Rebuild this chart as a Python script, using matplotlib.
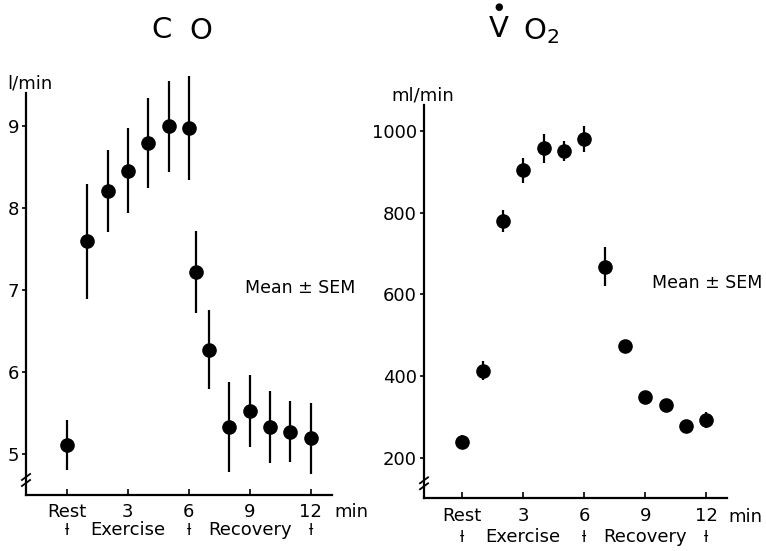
import matplotlib
matplotlib.use("Agg")
import matplotlib.pyplot as plt

W, H = 766, 551

# Cardiac output (l/min), mean and SEM
co_t = [0, 1, 2, 3, 4, 5, 6, 6.35, 7, 8, 9, 10, 11, 12]
co_mean = [5.11, 7.59, 8.20, 8.45, 8.79, 8.99, 8.97, 7.22, 6.27, 5.33, 5.52, 5.33, 5.27, 5.19]
co_sem = [0.30, 0.70, 0.50, 0.52, 0.55, 0.56, 0.63, 0.50, 0.48, 0.55, 0.44, 0.44, 0.37, 0.43]

# Oxygen uptake (ml/min), mean and SEM
vo2_t = [0, 1, 2, 3, 4, 5, 6, 7, 8, 9, 10, 11, 12]
vo2_mean = [239, 414, 780, 903, 957, 950, 980, 668, 475, 350, 330, 279, 294]
vo2_sem = [17, 24, 27, 30, 35, 25, 31, 47, 15, 10, 12, 12, 20]

x_ticks = [0, 3, 6, 9, 12]
x_labels = ["Rest", "3", "6", "9", "12"]
co_ticks = [5, 6, 7, 8, 9]
vo2_ticks = [200, 400, 600, 800, 1000]
phase_marks = [0, 6, 12]
phase_names = ["Exercise", "Recovery"]
phase_pos = [3, 9]

plt.rcParams['font.family'] = ['DejaVu Sans']
fig = plt.figure(figsize=(W / 100, H / 100), dpi=100)


def px(x, y):
    return x / W, 1 - y / H


def setup(ax, yticks, ylim, xlim, spine_top, axh, row2):
    ax.set_xlim(*xlim)
    ax.set_ylim(*ylim)
    for s in ['top', 'right']:
        ax.spines[s].set_visible(False)
    for s in ['left', 'bottom']:
        ax.spines[s].set_linewidth(1.6)
    ax.spines['left'].set_bounds(ylim[0], spine_top)
    ax.set_xticks(x_ticks)
    ax.set_xticklabels(x_labels)
    ax.set_yticks(yticks)
    ax.set_yticklabels([str(v) for v in yticks])
    ax.tick_params(axis='x', direction='in', length=4, width=1.2, pad=6, labelsize=13)
    ax.tick_params(axis='y', direction='out', length=3, width=1.2, pad=2, labelsize=13)
    # second row: phase markers and names
    for m in phase_marks:
        ax.annotate("ƚ", xy=(m, 0), xycoords=ax.get_xaxis_transform(),
                    xytext=(0, row2), textcoords='offset points',
                    ha='center', va='center', fontsize=11)
    for name, p in zip(phase_names, phase_pos):
        ax.annotate(name, xy=(p, 0), xycoords=ax.get_xaxis_transform(),
                    xytext=(0, row2), textcoords='offset points',
                    ha='center', va='center', fontsize=13)
    # axis break on the y axis
    yb = 15 / axh
    dx, dy = 4 / 300, 3 / axh
    ax.plot([0, 0], [yb - dy, yb + dy], color='white', lw=3, transform=ax.transAxes, clip_on=False)
    for off in (-dy, dy):
        ax.plot([-dx, dx], [yb + off - dy, yb + off + dy], color='black', lw=1.3,
                transform=ax.transAxes, clip_on=False)


# left panel: CO
axh1 = 495 - 72.3
ax1 = fig.add_axes([26 / W, (H - 495) / H, 306 / W, axh1 / H])
ax1.errorbar(co_t, co_mean, yerr=co_sem, fmt='o', color='black', ms=9.5,
             elinewidth=1.6, capsize=0, clip_on=False)
setup(ax1, co_ticks, (4.5, 9.65), (-2.02, 13.05), 9.4, axh1, -25.5)

# right panel: VO2
axh2 = 498.3 - 105
ax2 = fig.add_axes([424 / W, (H - 498.3) / H, 302.7 / W, axh2 / H])
ax2.errorbar(vo2_t, vo2_mean, yerr=vo2_sem, fmt='o', color='black', ms=9.5,
             elinewidth=1.6, capsize=0, clip_on=False)
setup(ax2, vo2_ticks, (102, 1063), (-1.88, 13.0), 1063, axh2, -28)

# unit labels
fig.text(*px(30, 83), "l/min", ha='center', va='center', fontsize=13)
fig.text(*px(423, 95), "ml/min", ha='center', va='center', fontsize=13)
fig.text(*px(334, 512), "min", ha='left', va='center', fontsize=13)
fig.text(*px(728, 517), "min", ha='left', va='center', fontsize=13)

# notes
fig.text(*px(245, 288), "Mean ± SEM", ha='left', va='center', fontsize=12.5)
fig.text(*px(652, 283), "Mean ± SEM", ha='left', va='center', fontsize=12.5)

# titles
fig.text(*px(162, 30), "C", ha='center', va='center', fontsize=21)
fig.text(*px(201, 31), "O", ha='center', va='center', fontsize=21)
fig.text(*px(498.5, 29), "V", ha='center', va='center', fontsize=21)
fig.text(*px(498.5, 7), "●", ha='center', va='center', fontsize=7)
fig.text(*px(523, 31), "O$_2$", ha='left', va='center', fontsize=21)

fig.savefig("out.png", dpi=100)
